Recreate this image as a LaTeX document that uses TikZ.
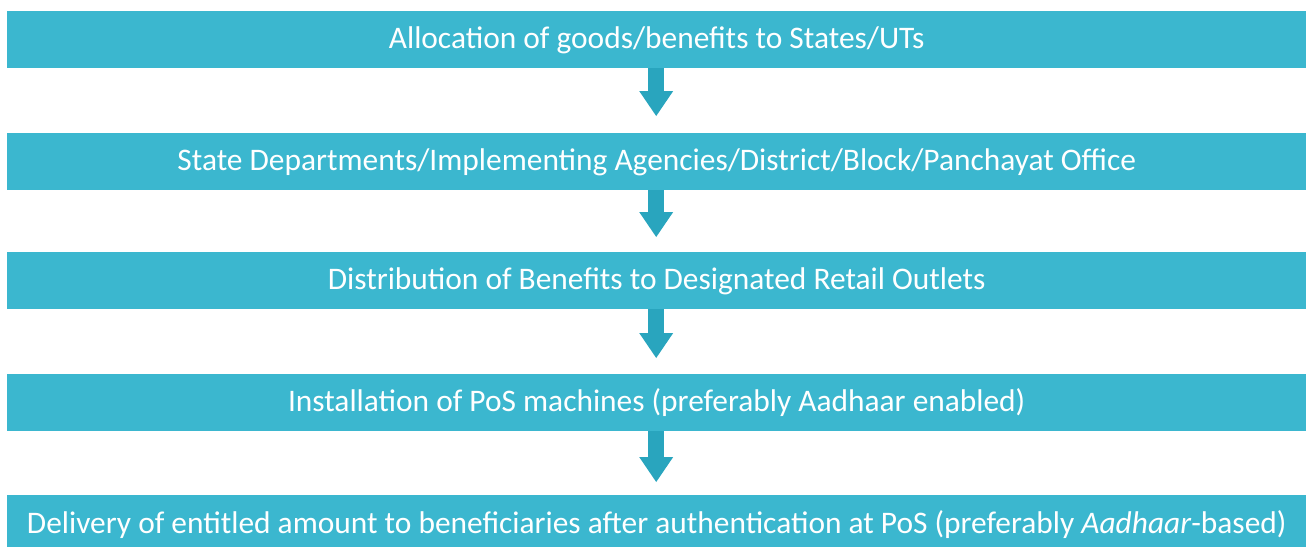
\documentclass[tikz,border=0pt]{standalone}
\usepackage{fontspec}
\setmainfont{Carlito}
\usetikzlibrary{arrows.meta}
\definecolor{barc}{RGB}{59,183,207}
\definecolor{arrc}{RGB}{41,165,190}
\begin{document}
\begin{tikzpicture}[x=1pt,y=-1pt,
  bar/.style={fill=barc, draw=none, anchor=north west, inner sep=0pt,
    minimum width=1299pt, minimum height=57pt, text=white,
    font=\fontsize{31.4}{37}\selectfont, text height=27pt, text depth=10pt},
  flow/.style={draw=arrc, line width=16pt,
    -{Triangle[width=34pt,length=25pt,line width=0pt]}}]
\useasboundingbox (0,0) rectangle (1306,547);
\node[bar] (b1) at (7,11) {Allocation of goods/benefits to States/UTs};
\node[bar] (b2) at (7,133) {State Departments/Implementing Agencies/District/Block/Panchayat Office};
\node[bar] (b3) at (7,252) {Distribution of Benefits to Designated Retail Outlets};
\node[bar] (b4) at (7,374) {Installation of PoS machines (preferably Aadhaar enabled)};
\node[bar, minimum height=52pt, text height=30pt, text depth=6pt] (b5) at (7,495)
  {Delivery of entitled amount to beneficiaries after authentication at PoS (preferably \textit{Aadhaar}-based)};
\draw[flow, shorten >=17pt] ([xshift=-0.5pt]b1.south) -- ([xshift=-0.5pt]b2.north);
\draw[flow, shorten >=15pt] ([xshift=-0.5pt]b2.south) -- ([xshift=-0.5pt]b3.north);
\draw[flow, shorten >=16pt] ([xshift=-0.5pt]b3.south) -- ([xshift=-0.5pt]b4.north);
\draw[flow, shorten >=13pt] ([xshift=-0.5pt]b4.south) -- ([xshift=-0.5pt]b5.north);
\end{tikzpicture}
\end{document}
